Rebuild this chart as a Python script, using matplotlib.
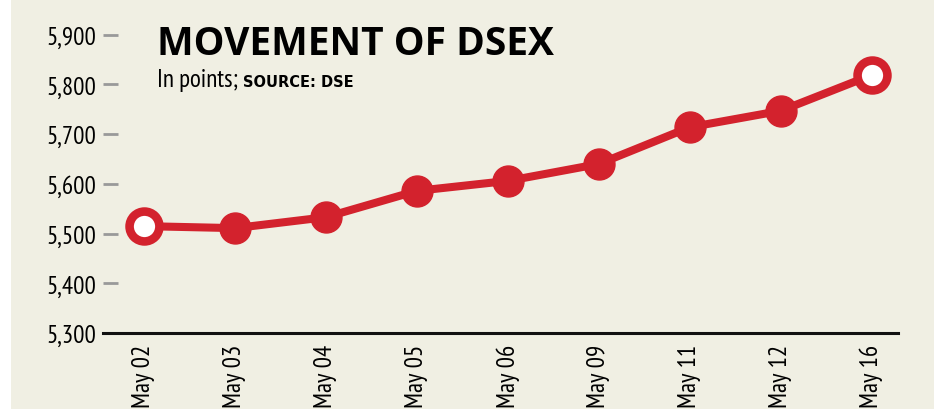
import matplotlib
matplotlib.use('Agg')
import matplotlib.pyplot as plt
from matplotlib.patches import Rectangle

# data
dates = ['May 02', 'May 03', 'May 04', 'May 05', 'May 06', 'May 09', 'May 11', 'May 12', 'May 16']
dsex = [5515, 5511, 5533, 5586, 5606, 5640, 5714, 5747, 5819]
yticks = [5300, 5400, 5500, 5600, 5700, 5800, 5900]
ytick_labels = ['5,300', '5,400', '5,500', '5,600', '5,700', '5,800', '5,900']

# condensed look like the original; falls back to DejaVu if not there
narrow = ['PT Sans Narrow', 'Fira Sans Condensed', 'Asap Condensed', 'Barlow Semi Condensed', 'DejaVu Sans']
heavy = ['Open Sans', 'DejaVu Sans']

bg = '#f0efe3'
red = '#d3222d'

fig = plt.figure(figsize=(9.34, 4.10), dpi=100)
fig.patch.set_facecolor(bg)
fig.patches.append(Rectangle((0, 0), 11 / 934, 1, transform=fig.transFigure,
                             facecolor='white', edgecolor='none'))

ax = fig.add_axes([103 / 934, 76 / 410, 795 / 934, 334 / 410])
ax.set_facecolor(bg)
x = list(range(len(dates)))
ax.plot(x, dsex, color=red, lw=5.8, zorder=2, solid_capstyle='round')
ax.plot(x[1:-1], dsex[1:-1], 'o', color=red, ms=22.3, zorder=3)
ax.plot([x[0], x[-1]], [dsex[0], dsex[-1]], 'o', mfc='white', mec=red,
        ms=21.5, mew=6.2, zorder=4)

ax.set_xlim(-0.45, 8.29)
ax.set_ylim(5300, 5972)
for s in ['top', 'right', 'left']:
    ax.spines[s].set_visible(False)
ax.spines['bottom'].set_linewidth(2.2)
ax.spines['bottom'].set_color('#111111')
ax.spines['bottom'].set_zorder(5)

ax.set_yticks(yticks)
ax.set_yticklabels(ytick_labels, family=narrow, fontsize=18)
ax.tick_params(axis='y', direction='in', length=10.5, width=2, color='#999999', pad=5)
ax.set_xticks(x)
ax.set_xticklabels(dates, rotation=90, family=narrow, fontsize=18, va='top')
ax.tick_params(axis='x', length=0, pad=8)

fig.text(157 / 934, 1 - 55 / 410, 'MOVEMENT OF DSEX', fontsize=28, fontweight='bold',
         family=heavy, color='black', va='baseline')
fig.text(157 / 934, 1 - 87 / 410, 'In points;', fontsize=18, family=narrow,
         color='black', va='baseline')
fig.text(243 / 934, 1 - 87 / 410, 'SOURCE: DSE', fontsize=10.5, fontweight='bold',
         family=['DejaVu Sans'], color='black', va='baseline')

fig.savefig('out.png', dpi=100, facecolor=bg)
